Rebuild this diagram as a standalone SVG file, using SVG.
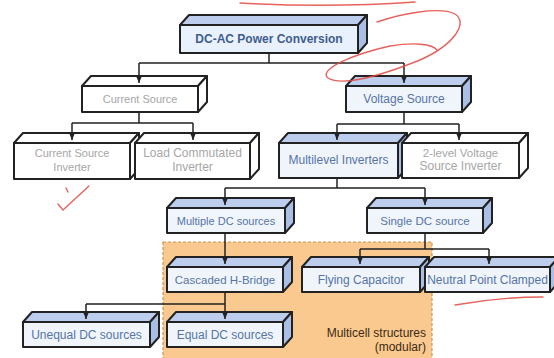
<svg xmlns="http://www.w3.org/2000/svg" width="554" height="358" viewBox="0 0 554 358">
<defs>
<marker id="arr" markerWidth="7" markerHeight="6" refX="7" refY="3" orient="auto" markerUnits="userSpaceOnUse"><path d="M0,0 L7,3 L0,6 Z" fill="#222"/></marker>
</defs>
<style>
.b rect,.b path{stroke:#222;stroke-width:2;stroke-linejoin:round}
.b rect{fill:#f0f5fc}
.b .t{fill:#bccdee}
.b .s{fill:#a9bfe6}
.b text{fill:#5674a6}
.g rect,.g path{stroke:#222;stroke-width:2;stroke-linejoin:round;fill:#fff}
.g text{fill:#a6a6a6}
text{font-family:"Liberation Sans",Arial,sans-serif;font-size:12px;text-anchor:middle}
.c path{fill:none;stroke:#222;stroke-width:1.5}
.red{fill:none;stroke:#e2463f;stroke-width:1.4;stroke-linecap:round;opacity:0.85}
</style>
<rect width="554" height="358" fill="#fff"/>
<g id="region">
<rect x="163" y="242" width="269" height="120" fill="#fac98f" stroke="#c99356" stroke-width="1.2" stroke-dasharray="3,2"/>
<text x="426" y="337" style="text-anchor:end;fill:#3a2a12">Multicell structures</text>
<text x="426" y="351" style="text-anchor:end;fill:#3a2a12">(modular)</text>
</g>
<g id="dcac" class="b">
<path class="t" d="M180,25 L189,15 L367,15 L358,25 Z"/>
<path class="s" d="M358,25 L367,15 L367,43 L358,53 Z"/>
<rect x="180" y="25" width="178" height="28" style="fill:#e9f1fc"/>
<text x="269" y="43" style="font-weight:bold;fill:#3f5d8e">DC-AC Power Conversion</text>
</g>
<g id="current-source" class="g">
<path d="M82,86 L91,76 L207,76 L198,86 Z"/>
<path d="M198,86 L207,76 L207,102 L198,112 Z"/>
<rect x="82" y="86" width="116" height="26"/>
<text x="140" y="103" style="font-size:11px">Current Source</text>
</g>
<g id="voltage-source" class="b">
<path class="t" d="M346,86 L355,76 L471,76 L462,86 Z"/>
<path class="s" d="M462,86 L471,76 L471,102 L462,112 Z"/>
<rect x="346" y="86" width="116" height="26"/>
<text x="404" y="103">Voltage Source</text>
</g>
<g id="csi" class="g">
<path d="M14,143 L23,133 L139,133 L130,143 Z"/>
<path d="M130,143 L139,133 L139,169 L130,179 Z"/>
<rect x="14" y="143" width="116" height="36"/>
<text x="72" y="157" style="font-size:11px">Current Source</text>
<text x="72" y="171" style="font-size:11px">Inverter</text>
</g>
<g id="lci" class="g">
<path d="M135,143 L144,133 L259,133 L250,143 Z"/>
<path d="M250,143 L259,133 L259,169 L250,179 Z"/>
<rect x="135" y="143" width="115" height="36"/>
<text x="192.5" y="157">Load Commutated</text>
<text x="192.5" y="171">Inverter</text>
</g>
<g id="multilevel" class="b">
<path class="t" d="M279,143 L288,133 L407,133 L398,143 Z"/>
<path class="s" d="M398,143 L407,133 L407,168 L398,178 Z"/>
<rect x="279" y="143" width="119" height="35"/>
<text x="338.5" y="164">Multilevel Inverters</text>
</g>
<g id="two-level" class="g">
<path d="M402,143 L411,133 L528,133 L519,143 Z"/>
<path d="M519,143 L528,133 L528,168 L519,178 Z"/>
<rect x="402" y="143" width="117" height="35"/>
<text x="460.5" y="157" style="font-size:11.5px">2-level Voltage</text>
<text x="460.5" y="170">Source Inverter</text>
</g>
<g id="multiple-dc" class="b">
<path class="t" d="M167,208 L176,198 L294,198 L285,208 Z"/>
<path class="s" d="M285,208 L294,198 L294,223 L285,233 Z"/>
<rect x="167" y="208" width="118" height="25"/>
<text x="226" y="225" style="font-size:11px">Multiple DC sources</text>
</g>
<g id="single-dc" class="b">
<path class="t" d="M367,208 L376,198 L492,198 L483,208 Z"/>
<path class="s" d="M483,208 L492,198 L492,223 L483,233 Z"/>
<rect x="367" y="208" width="116" height="25"/>
<text x="425" y="225" style="font-size:11.5px">Single DC source</text>
</g>
<g id="chb" class="b">
<path class="t" d="M167,267 L176,257 L292,257 L283,267 Z"/>
<path class="s" d="M283,267 L292,257 L292,282 L283,292 Z"/>
<rect x="167" y="267" width="116" height="25"/>
<text x="225" y="284" style="font-size:11.5px">Cascaded H-Bridge</text>
</g>
<g id="fc" class="b">
<path class="t" d="M302,267 L311,257 L429,257 L420,267 Z"/>
<path class="s" d="M420,267 L429,257 L429,282 L420,292 Z"/>
<rect x="302" y="267" width="118" height="25"/>
<text x="361" y="284">Flying Capacitor</text>
</g>
<g id="npc" class="b">
<path class="t" d="M425,267 L434,257 L559,257 L550,267 Z"/>
<path class="s" d="M550,267 L559,257 L559,282 L550,292 Z"/>
<rect x="425" y="267" width="125" height="25"/>
<text x="487.5" y="284">Neutral Point Clamped</text>
</g>
<g id="unequal-dc" class="b">
<path class="t" d="M23,322 L32,312 L159,312 L150,322 Z"/>
<path class="s" d="M150,322 L159,312 L159,337 L150,347 Z"/>
<rect x="23" y="322" width="127" height="25"/>
<text x="86.5" y="339">Unequal DC sources</text>
</g>
<g id="equal-dc" class="b">
<path class="t" d="M167,322 L176,312 L292,312 L283,322 Z"/>
<path class="s" d="M283,322 L292,312 L292,337 L283,347 Z"/>
<rect x="167" y="322" width="116" height="25"/>
<text x="225" y="339">Equal DC sources</text>
</g>
<g class="c" id="connectors">
<path d="M269,53 V63 M139,63 H404"/>
<path d="M139,63 V83" marker-end="url(#arr)"/>
<path d="M404,63 V83" marker-end="url(#arr)"/>
<path d="M139,112 V123 M72,123 H193"/>
<path d="M72,123 V140" marker-end="url(#arr)"/>
<path d="M193,123 V140" marker-end="url(#arr)"/>
<path d="M404,112 V124 M337,124 H459"/>
<path d="M337,124 V140" marker-end="url(#arr)"/>
<path d="M459,124 V140" marker-end="url(#arr)"/>
<path d="M337,178 V188 M225,188 H425"/>
<path d="M225,188 V205" marker-end="url(#arr)"/>
<path d="M425,188 V205" marker-end="url(#arr)"/>
<path d="M225,233 V264" marker-end="url(#arr)"/>
<path d="M425,233 V249 M360,249 H489"/>
<path d="M360,249 V264" marker-end="url(#arr)"/>
<path d="M489,249 V264" marker-end="url(#arr)"/>
<path d="M225,292 V304 M86,304 H225"/>
<path d="M86,304 V319" marker-end="url(#arr)"/>
<path d="M225,304 V319" marker-end="url(#arr)"/>
</g>
<g id="annotations">
<path class="red" d="M240,3 Q330,8 415,2"/>
<path class="red" d="M377,22 C400,14 440,6 455,14 C468,22 456,44 420,60 C390,72 345,88 328,78 C318,70 350,55 390,46 C415,42 432,44 437,50"/>
<path class="red" d="M66,188 L68,192 M58,204 L63,210 L89,186"/>
<path class="red" d="M455,305 Q500,297 543,297"/>
</g>
</svg>
